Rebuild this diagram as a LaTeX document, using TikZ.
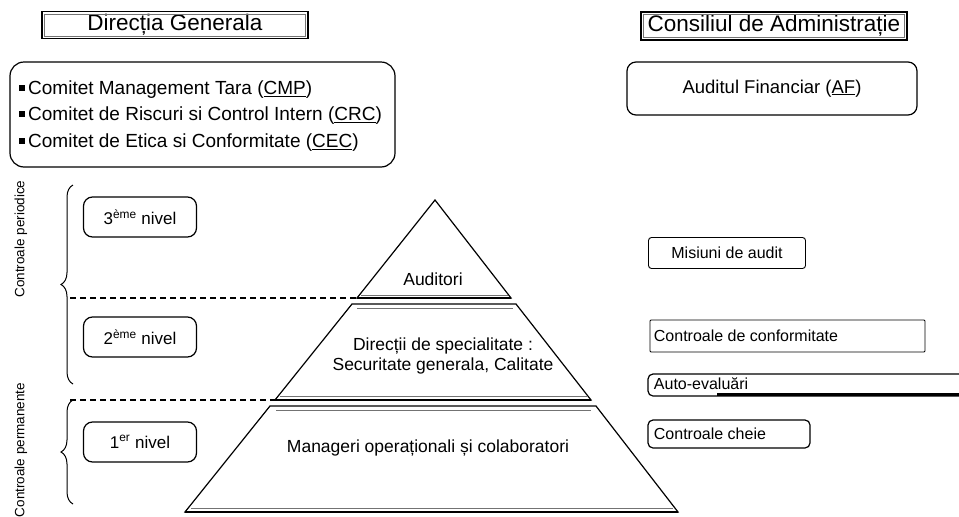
\documentclass[tikz,border=0pt]{standalone}
\usepackage{fontspec}
\setmainfont{Liberation Sans}
\usetikzlibrary{decorations.pathreplacing}
\newcommand{\fs}[1]{\fontsize{#1}{#1}\selectfont}
\newcommand{\bul}{\rule[.22em]{.32em}{.32em}\,}
\begin{document}
\begin{tikzpicture}[x=1pt, y=-1pt, line width=1.2pt,
	head/.style={draw, line width=1.1pt, inner sep=0pt, font=\fs{22.5}},
	rbox/.style={draw, rounded corners=9pt, inner sep=0pt},
	lvl/.style={rbox, minimum width=113pt, minimum height=40pt, font=\fs{17}},
	ctl/.style={draw, rounded corners=3pt, inner sep=0pt, line width=.9pt, font=\fs{16}},
	cutline/.style={dash pattern=on 6pt off 4pt, line width=1.1pt},
	basel/.style={line width=2pt},
	thinl/.style={line width=.5pt, black!55}]
			\clip (0, 0) rectangle (959, 517);
			% titluri
			\node[head, minimum width=266pt, minimum height=27pt] (dg) at (175, 25) {Direcția Generala};
			\node[head, minimum width=266pt, minimum height=28pt] (ca) at (774, 26) {Consiliul de Administrație};
			\draw[thinl] ([xshift=3pt, yshift=-3pt]dg.north west) rectangle ([xshift=-3pt, yshift=3pt]dg.south east);
			\draw[thinl] ([xshift=3pt, yshift=-3pt]ca.north west) rectangle ([xshift=-3pt, yshift=3pt]ca.south east);
			\node[rbox, rounded corners=14pt, minimum width=385pt, minimum height=105pt] (com) at (202.5, 114.5) {};
			\node[anchor=west, font=\fs{19}] (cmp) at (15, 90) {\bul Comitet Management Tara (\underline{CMP})};
			\node[anchor=west, font=\fs{19}] (crc) at (15, 116) {\bul Comitet de Riscuri si Control Intern (\underline{CRC})};
			\node[anchor=west, font=\fs{19}] (cec) at (15, 143) {\bul Comitet de Etica si Conformitate (\underline{CEC})};
			\node[rbox, minimum width=290pt, minimum height=53pt, font=\fs{18.5}] (af) at (772, 88.5) {Auditul Financiar (\underline{AF})};
			% controale
			\node[rotate=90, font=\fs{13.5}] (per) at (21, 239) {Controale periodice};
			\node[rotate=90, font=\fs{13.5}] (perm) at (21, 450) {Controale permanente};
			\coordinate (br1a) at (73, 384);
			\coordinate (br1b) at (73, 185);
			\coordinate (br2a) at (73, 504);
			\coordinate (br2b) at (73, 400);
			\draw[decorate, decoration={brace, amplitude=12pt}, line width=1pt] (br1a) -- (br1b);
			\draw[decorate, decoration={brace, amplitude=12pt}, line width=1pt] (br2a) -- (br2b);
			\foreach \n/\y/\s in {3/217/ème, 2/337/ème, 1/442/er} {
				\node[lvl] (lvl\n) at (140, \y) {\n\textsuperscript{\s} nivel};
			}
			% piramida
			\coordinate (ap) at (435, 200);
			\coordinate (topl) at (357, 298);
			\coordinate (topr) at (511, 298);
			\coordinate (midtl) at (352, 304);
			\coordinate (midtr) at (516, 304);
			\coordinate (midbl) at (275, 400);
			\coordinate (midbr) at (591, 400);
			\coordinate (bottl) at (270, 406);
			\coordinate (bottr) at (596, 406);
			\coordinate (botbl) at (185, 512);
			\coordinate (botbr) at (678, 512);
			\draw (ap) -- (topr) -- (topl) -- cycle;
			\draw (midtl) -- (midtr) -- (midbr) -- (midbl) -- cycle;
			\draw (bottl) -- (bottr) -- (botbr) -- (botbl) -- cycle;
			\draw[basel] (topl) -- (topr) (midbl) -- (midbr) (botbl) -- (botbr);
			\draw[thinl] (361, 295) -- (508, 295) (357, 308) -- (513, 308) (280, 396) -- (587, 396);
			\draw[thinl] (276, 410) -- (591, 410) (191, 508) -- (673, 508);
			\coordinate (cut3) at (70, 298);
			\coordinate (cut2) at (70, 400);
			\draw[cutline] (cut3) -- (topl);
			\draw[cutline] (cut2) -- (midbl);
			\node[font=\fs{17.5}] (aud) at (433, 279) {Auditori};
			\node[font=\fs{17.5}, align=center] (spec) at (443, 356) {Direcții de specialitate :\\[2pt]Securitate generala, Calitate};
			\node[font=\fs{17.5}] (man) at (428, 448) {Manageri operaționali și colaboratori};
			% misiuni si controale
			\node[ctl, minimum width=157pt, minimum height=31pt] (mis) at (727, 253) {Misiuni de audit};
			\node[ctl, rounded corners=1pt, minimum width=275pt, minimum height=32pt] (conf) at (787.5, 336) {};
			\node[anchor=west, font=\fs{16}] (conft) at (650, 336) {Controale de conformitate};
			\node[ctl, rounded corners=5pt, line width=1.2pt, minimum width=330pt, minimum height=22pt] (auto) at (813, 385) {};
			\draw[line width=2.5pt] ([xshift=70pt, yshift=2pt]auto.south west) -- ([yshift=2pt]auto.south east);
			\node[anchor=west, font=\fs{16}] (autot) at (650, 384) {Auto-evaluări};
			\node[ctl, rounded corners=5pt, line width=1.2pt, minimum width=162pt, minimum height=28pt] (cheie) at (729, 434) {};
			\node[anchor=west, font=\fs{16}] (cheiet) at (650, 434) {Controale cheie};
\end{tikzpicture}
\end{document}
